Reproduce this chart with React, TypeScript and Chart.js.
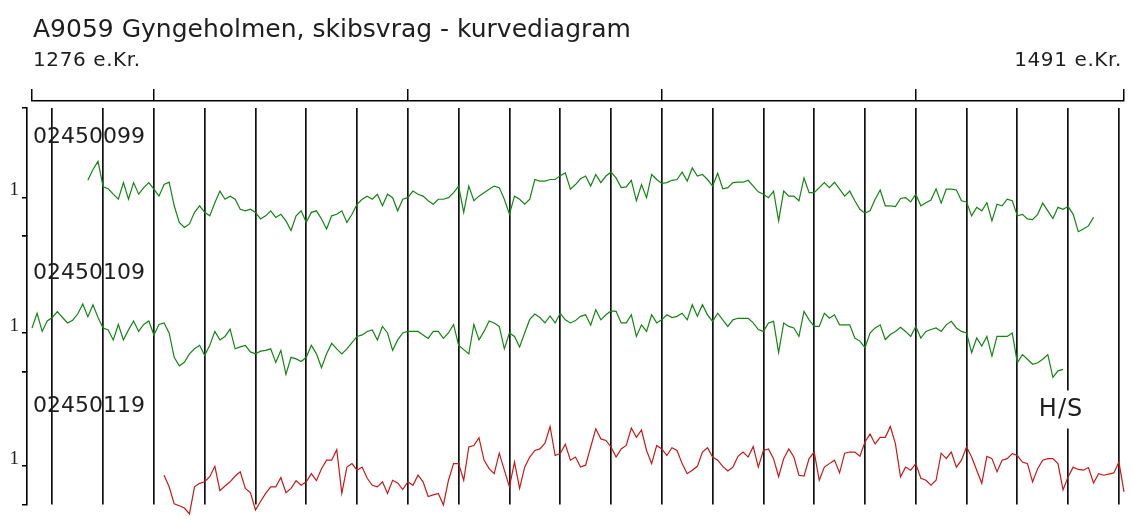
import React, { useEffect, useRef } from 'react';
import { Chart, registerables } from 'chart.js';

Chart.register(...registerables);

// ---- texts ----
const TITLE = 'A9059 Gyngeholmen, skibsvrag - kurvediagram';
const START_LABEL = '1276 e.Kr.';
const END_LABEL = '1491 e.Kr.';
const HS_TEXT = 'H/S';

// ---- axis definition ----
const FIRST_YEAR = 1276;
const LAST_YEAR = 1491;
const MAJOR_TICKS = [1276, 1300, 1350, 1400, 1450, 1491];
const DECADE_LINES = [
  1280, 1290, 1300, 1310, 1320, 1330, 1340, 1350, 1360, 1370, 1380,
  1390, 1400, 1410, 1420, 1430, 1440, 1450, 1460, 1470, 1480, 1490,
];
const BAND_TICKS = ['1'];

// ---- series ----
const SERIES_NAMES = ['02450099', '02450109', '02450119'];
const SERIES_START = [1287, 1276, 1302];
const SERIES_COLORS = ['#138513', '#138513', '#c81818'];

const series1 = [
  1.44, 1.72, 1.93, 1.27, 1.22, 1.08, 0.95, 1.38, 0.95, 1.38,
  1.08, 1.25, 1.38, 1.21, 1.03, 1.33, 1.39, 0.78, 0.35, 0.22,
  0.31, 0.61, 0.78, 0.61, 0.52, 0.86, 1.16, 0.95, 1.03, 0.95,
  0.69, 0.65, 0.69, 0.61, 0.44, 0.52, 0.65, 0.48, 0.56, 0.39,
  0.14, 0.52, 0.65, 0.35, 0.61, 0.65, 0.44, 0.18, 0.52, 0.56,
  0.65, 0.35, 0.56, 0.82, 0.95, 1.03, 0.95, 1.08, 0.78, 1.08,
  0.99, 0.65, 0.95, 0.99, 1.16, 1.08, 1.03, 0.91, 0.82, 0.95,
  0.95, 0.99, 1.12, 1.29, 0.61, 1.29, 0.91, 1.03, 1.12, 1.21,
  1.29, 1.25, 0.95, 0.56, 1.03, 0.95, 0.82, 0.95, 1.46, 1.42,
  1.42, 1.46, 1.46, 1.56, 1.63, 1.21, 1.33, 1.48, 1.55, 1.29,
  1.59, 1.38, 1.55, 1.65, 1.50, 1.25, 1.27, 1.44, 0.91, 1.33,
  0.99, 1.59, 1.46, 1.36, 1.38, 1.44, 1.46, 1.65, 1.42, 1.76,
  1.55, 1.59, 1.46, 1.29, 1.62, 1.22, 1.25, 1.38, 1.39, 1.39,
  1.44, 1.29, 1.14, 1.08, 0.99, 1.16, 0.39, 1.16, 1.03, 1.03,
  0.91, 1.50, 1.12, 1.12, 1.25, 1.38, 1.25, 1.39, 1.21, 1.03,
  1.16, 0.91, 0.69, 0.59, 0.65, 0.95, 1.19, 0.78, 0.78, 0.76,
  0.97, 0.99, 0.88, 1.08, 0.78, 0.86, 0.93, 1.22, 0.85, 1.21,
  1.21, 1.19, 0.91, 0.88, 0.52, 0.74, 0.65, 0.86, 0.39, 0.82,
  0.78, 0.95, 0.91, 0.52, 0.56, 0.44, 0.42, 0.56, 0.85, 0.65,
  0.45, 0.74, 0.69, 0.76, 0.56, 0.11, 0.18, 0.26, 0.48,
];

const series2 = [
  1.13, 1.51, 1.04, 1.31, 1.40, 1.55, 1.40, 1.26, 1.33, 1.49,
  1.75, 1.42, 1.73, 1.40, 1.13, 1.08, 0.82, 1.22, 0.82, 1.08,
  1.31, 1.04, 1.22, 1.31, 0.95, 1.22, 1.26, 1.00, 0.37, 0.15,
  0.24, 0.46, 0.59, 0.68, 0.42, 0.68, 1.04, 0.82, 0.91, 1.10,
  0.59, 0.64, 0.68, 0.51, 0.46, 0.53, 0.55, 0.59, 0.24, 0.55,
  -0.07, 0.37, 0.33, 0.26, 0.37, 0.68, 0.46, 0.10, 0.46, 0.73,
  0.59, 0.46, 0.59, 0.75, 0.91, 0.95, 1.04, 1.08, 0.82, 1.17,
  1.00, 0.55, 0.82, 1.00, 1.04, 1.04, 1.04, 0.95, 0.86, 1.04,
  1.04, 0.86, 1.00, 1.22, 0.68, 0.57, 0.46, 1.22, 0.82, 1.04,
  1.31, 1.26, 1.17, 0.59, 1.00, 0.91, 0.64, 1.00, 1.35, 1.49,
  1.40, 1.26, 1.44, 1.26,
  1.51, 1.34, 1.26, 1.32, 1.43, 1.47, 1.20, 1.60, 1.34, 1.47,
  1.57, 1.56, 1.26, 1.26, 1.47, 0.91, 1.21, 1.04, 1.47, 1.26,
  1.34, 1.47, 1.40, 1.43, 1.51, 1.34, 1.73, 1.43, 1.73, 1.47,
  1.30, 1.51, 1.34, 1.17, 1.34, 1.38, 1.38, 1.38, 1.26, 1.09,
  1.04, 1.26, 1.30, 0.49, 1.26, 1.17, 1.13, 0.91, 1.56, 1.34,
  1.17, 1.17, 1.51, 1.38, 1.47, 1.21, 1.21, 1.21, 0.87, 0.79,
  0.62, 1.00, 1.13, 1.21, 0.83, 0.96, 1.04, 1.15, 1.04, 0.91,
  1.17, 0.87, 1.04, 1.09, 1.13, 1.04, 1.21, 1.30, 1.13, 1.04,
  1.00, 0.49, 0.87, 0.66, 0.91, 0.40, 0.91, 0.91, 0.91, 1.00,
  0.23, 0.44, 0.32, 0.19, 0.23, 0.32, 0.44, -0.15, 0.02, 0.06,
];

const series3 = [
  0.76, 0.46, 0.02, -0.03, -0.09, -0.24, 0.46, 0.55, 0.59, 0.72,
  0.99, 0.36, 0.48, 0.59, 0.74, 0.85, 0.42, 0.31, -0.14, 0.08,
  0.29, 0.46, 0.46, 0.70, 0.31, 0.42, 0.62, 0.50, 0.59, 0.80,
  0.62, 0.93, 1.15, 1.15, 1.42, 0.29, 0.97, 1.06, 0.89, 0.97,
  0.68, 0.50, 0.46, 0.59, 0.29, 0.63, 0.56, 0.39, 0.59, 0.50,
  0.76, 0.59, 0.21, 0.25, 0.29, -0.01, 0.63, 1.06, 1.06, 0.63,
  1.49, 1.53, 1.73, 1.15, 0.93, 0.80, 1.33, 0.89, 0.46, 1.10,
  0.42, 0.97, 1.23, 1.40, 1.44, 1.59, 2.02, 1.27, 1.32, 1.56,
  1.15, 1.23, 0.97, 1.02, 1.49, 1.96, 1.70, 1.66, 1.49, 1.23,
  1.44, 1.53, 1.98, 1.74, 1.93, 1.40, 1.06, 1.53, 1.44, 1.27,
  1.47, 1.40, 1.06, 0.80, 0.89, 0.99, 1.36, 1.47, 1.23, 1.15,
  0.99, 0.87, 0.97, 1.25, 1.36, 1.23, 1.50, 0.97, 1.40, 1.44,
  1.19, 0.72, 1.19, 1.44, 1.23, 0.76, 0.74, 1.19, 1.36, 0.63,
  0.97, 1.06, 1.15, 0.82, 1.33, 1.36, 1.36, 1.25, 1.62, 1.83,
  1.57, 1.74, 1.74, 2.02, 1.57, 0.72, 0.97, 0.89, 1.06, 0.68,
  0.63, 0.50, 0.63, 1.33, 1.19, 1.36, 0.97, 1.15, 1.49, 1.23,
  0.89, 0.55, 1.25, 1.19, 0.85, 1.15, 1.19, 1.32, 1.27, 1.10,
  1.06, 0.59, 0.93, 1.15, 1.19, 1.19, 1.06, 0.38, 0.72, 0.97,
  0.91, 0.89, 0.96, 0.56, 0.80, 0.76, 0.79, 0.82, 1.10, 0.33,
];

const SERIES_VALUES = [series1, series2, series3];

// band (stacked y-axis) extents, value units
const BAND_IDS = ['y1', 'y2', 'y3'];
const BAND_MAX = [3.31, 3.51, 3.44];
const LABEL_LEVEL = 2.55;
const HS_YEAR = 1478.6;
const HS_LEVEL = 2.46;

const INK = '#1e1e1e';

const bandAxis = (max: number) => ({
  type: 'linear',
  position: 'left',
  stack: 'bands',
  stackWeight: max,
  weight: 1,
  min: 0,
  max,
  afterBuildTicks: (s: any) => {
    s.ticks = [{ value: 0 }, { value: 1 }, { value: max }];
  },
  afterFit: (s: any) => {
    s.width = 27;
  },
  ticks: {
    autoSkip: false,
    padding: 3,
    labelOffset: -7,
    color: INK,
    font: { family: '"Liberation Serif", serif', size: 19 },
    callback: (v: number) => (v === 1 ? BAND_TICKS[0] : ''),
  },
  grid: {
    display: true,
    drawOnChartArea: false,
    drawTicks: true,
    tickLength: 5,
    color: '#000',
    lineWidth: 1.5,
  },
  border: { display: true, color: '#000', width: 1.6 },
});

const labelsPlugin = {
  id: 'dendroLabels',
  afterDatasetsDraw(chart: any) {
    const { ctx } = chart;
    const xs = chart.scales.x;
    const left = xs.getPixelForValue(FIRST_YEAR);
    const right = xs.getPixelForValue(LAST_YEAR);
    ctx.save();
    ctx.fillStyle = INK;
    ctx.textBaseline = 'alphabetic';
    ctx.textAlign = 'left';
    ctx.font = '25px "DejaVu Sans"';
    ctx.fillText(TITLE, left + 1, xs.top - 52);
    ctx.font = '20px "DejaVu Sans"';
    (ctx as any).letterSpacing = '0.6px';
    ctx.fillText(START_LABEL, left + 1, xs.top - 23);
    ctx.textAlign = 'right';
    ctx.fillText(END_LABEL, right - 2, xs.top - 23);

    ctx.textAlign = 'left';
    ctx.textBaseline = 'middle';
    ctx.font = '22px "DejaVu Sans"';
    (ctx as any).letterSpacing = '0px';
    BAND_IDS.forEach((id, i) => {
      const ys = chart.scales[id];
      ctx.fillText(SERIES_NAMES[i], left + 1, ys.getPixelForValue(LABEL_LEVEL));
    });

    const ys3 = chart.scales.y3;
    const hx = xs.getPixelForValue(HS_YEAR);
    const hy = ys3.getPixelForValue(HS_LEVEL);
    ctx.font = '24px "DejaVu Sans"';
    (ctx as any).letterSpacing = '1px';
    const w = ctx.measureText(HS_TEXT).width;
    ctx.fillStyle = '#fff';
    ctx.fillRect(hx - w / 2 - 3, hy - 19, w + 6, 38);
    ctx.fillStyle = INK;
    ctx.textAlign = 'center';
    ctx.fillText(HS_TEXT, hx, hy);
    ctx.restore();
  },
};

export default function App() {
  const ref = useRef<HTMLCanvasElement | null>(null);

  useEffect(() => {
    if (!ref.current) return;
    const datasets = SERIES_VALUES.map((vals, i) => ({
      label: SERIES_NAMES[i],
      data: vals.map((v, k) => ({ x: SERIES_START[i] + k, y: v })),
      xAxisID: 'x',
      yAxisID: BAND_IDS[i],
      borderColor: SERIES_COLORS[i],
      borderWidth: 1.2,
      pointRadius: 0,
      tension: 0,
      fill: false,
      clip: false as any,
    }));

    const chart = new Chart(ref.current, {
      type: 'line',
      data: { datasets },
      plugins: [labelsPlugin],
      options: {
        animation: false,
        responsive: true,
        maintainAspectRatio: false,
        events: [],
        layout: { padding: { top: 89, left: 0, right: 8, bottom: 11 } },
        plugins: {
          legend: { display: false },
          title: { display: false },
          tooltip: { enabled: false },
        },
        scales: {
          x: {
            type: 'linear',
            position: 'top',
            weight: 1,
            min: FIRST_YEAR,
            max: LAST_YEAR,
            afterBuildTicks: (s: any) => {
              s.ticks = MAJOR_TICKS.map((v) => ({ value: v }));
            },
            afterFit: (s: any) => {
              s.height = 12;
            },
            ticks: { display: false },
            grid: {
              display: true,
              drawOnChartArea: false,
              drawTicks: true,
              tickLength: 12,
              color: '#000',
              lineWidth: 1.5,
            },
            border: { display: true, color: '#000', width: 1.5 },
          },
          xg: {
            type: 'linear',
            axis: 'x',
            position: 'top',
            weight: 0,
            min: FIRST_YEAR,
            max: LAST_YEAR,
            afterBuildTicks: (s: any) => {
              s.ticks = DECADE_LINES.map((v) => ({ value: v }));
            },
            afterFit: (s: any) => {
              s.height = 7;
            },
            ticks: { display: false },
            grid: {
              display: true,
              drawOnChartArea: true,
              drawTicks: false,
              color: '#111',
              lineWidth: 1.7,
            },
            border: { display: false },
          },
          ySpacer: {
            type: 'linear',
            axis: 'y',
            position: 'left',
            weight: 0,
            afterFit: (s: any) => {
              s.width = 5;
            },
            ticks: { display: false },
            grid: { display: false },
            border: { display: false },
          },
          y3: bandAxis(BAND_MAX[2]),
          y2: bandAxis(BAND_MAX[1]),
          y1: bandAxis(BAND_MAX[0]),
        } as any,
      },
    } as any);
    return () => chart.destroy();
  }, []);

  return (
    <div style={{ position: 'absolute', left: 0, top: 0, width: 1132, height: 519, background: '#fff' }}>
      <canvas ref={ref} />
    </div>
  );
}
